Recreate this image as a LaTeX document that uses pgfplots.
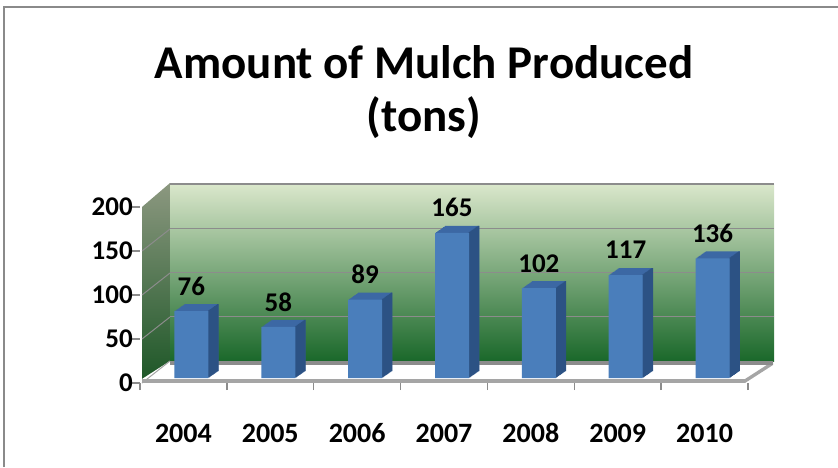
\documentclass[border=0pt]{standalone}
\usepackage{pgfplots}
\usepackage{pgfplotstable}
\pgfplotsset{compat=1.18}
\usepackage{fontspec}
\setmainfont{Carlito}
\definecolor{barfront}{RGB}{74,126,187}
\definecolor{bartop}{RGB}{60,104,164}
\definecolor{barside}{RGB}{44,82,132}
\definecolor{walltop}{RGB}{218,231,203}
\definecolor{wallmid}{RGB}{140,176,92}
\definecolor{wallbot}{RGB}{26,104,42}
\definecolor{lwtop}{RGB}{140,152,128}
\definecolor{lwbot}{RGB}{28,86,38}
\definecolor{edge}{RGB}{165,165,165}
\definecolor{border}{RGB}{138,138,138}
\definecolor{gridc}{RGB}{140,140,140}

\pgfplotstableread{
x year val
0 2004 76
1 2005 58
2 2006 89
3 2007 165
4 2008 102
5 2009 117
6 2010 136
}\datatable

\begin{document}
\begin{tikzpicture}[x=1pt,y=1pt]
\useasboundingbox (0,0) rectangle (838,467);
\draw[border, line width=2pt] (4,0) -- (4,460) -- (838,460);

% title
\node[font=\fontsize{47}{56}\selectfont\bfseries] at (424,405) {Amount of Mulch Produced};
\node[font=\fontsize{47}{56}\selectfont\bfseries] at (424,349) {(tons)};

% left wall
\shade[top color=lwtop, bottom color=lwbot] (142,84) -- (170,106) -- (170,284) -- (142,260) -- cycle;
\foreach \k in {1,2,3} {
  \draw[gridc, line width=1pt] (142,84+44*\k) -- (170,106+44*\k);
}

% back wall
\begin{axis}[name=wall, at={(170pt,106pt)}, anchor=south west, scale only axis,
  width=604pt, height=177pt, xmin=0, xmax=1, ymin=0, ymax=200,
  axis line style={draw=none}, xtick=\empty, ytick={50,100,150,200}, yticklabels={},
  major tick length=0pt, ymajorgrids, grid style={gridc, line width=1.4pt},
  axis background/.style={shade, top color=walltop, middle color=wallmid, bottom color=wallbot}]
\end{axis}

% floor
\fill[white] (142,88) -- (745,88) -- (773,106) -- (170,106) -- cycle;
\fill[edge] (142,84) rectangle (745,88);
\fill[edge] (745,84) -- (773,102) -- (773,106) -- (745,88) -- cycle;
\fill[gridc] (170,102) rectangle (773,106);
\draw[edge, line width=1pt] (142,84) -- (170,106);

% front axis (ticks and labels)
\begin{axis}[at={(140pt,84pt)}, anchor=south west, scale only axis,
  width=608pt, height=176pt, xmin=-0.5, xmax=6.5, ymin=0, ymax=200,
  axis x line*=bottom, axis y line*=left, axis line style={draw=none},
  xtick={0,...,6}, xticklabels={2004,2005,2006,2007,2008,2009,2010},
  minor xtick={-0.5,0.5,...,6.5},
  ytick={0,50,100,150,200}, yticklabels={0,50,100,150,200},
  tick align=outside, major tick length=8pt, minor tick length=7pt,
  major x tick style={draw=none},
  minor x tick style={draw=gridc, line width=1.5pt},
  major y tick style={draw=gridc, line width=1.5pt},
  xticklabel style={font=\fontsize{28}{32}\selectfont\bfseries, anchor=center, yshift=-42pt, inner sep=0pt},
  yticklabel style={font=\fontsize{27}{30}\selectfont\bfseries, anchor=east, inner sep=0pt, xshift=1pt},
  ]
\end{axis}

% bars
\begin{axis}[at={(148pt,89pt)}, anchor=south west, scale only axis,
  width=608pt, height=176pt, xmin=-0.5, xmax=6.5, ymin=0, ymax=200,
  hide axis, clip=false, /pgf/number format/assume math mode=true]
\pgfplotsinvokeforeach{1,...,10}{
  \addplot[ybar, bar shift=0pt, bar width=34pt, fill=bartop, draw=none, xshift=#1pt, yshift=0.7*#1pt]
    table[x=x, y=val] {\datatable};
}
\pgfplotsinvokeforeach{1,...,10}{
  \addplot[ybar, bar shift=16.5pt+#1pt, bar width=1.6pt, fill=barside, draw=none, yshift=0.7*#1pt]
    table[x=x, y=val] {\datatable};
}
\addplot[ybar, bar shift=0pt, bar width=34pt, fill=barfront, draw=none,
  nodes near coords, nodes near coords style={font=\fontsize{27}{30}\selectfont\bfseries, anchor=center, inner sep=0pt, yshift=25pt, text=black}]
  table[x=x, y=val] {\datatable};
\end{axis}
\end{tikzpicture}
\end{document}
